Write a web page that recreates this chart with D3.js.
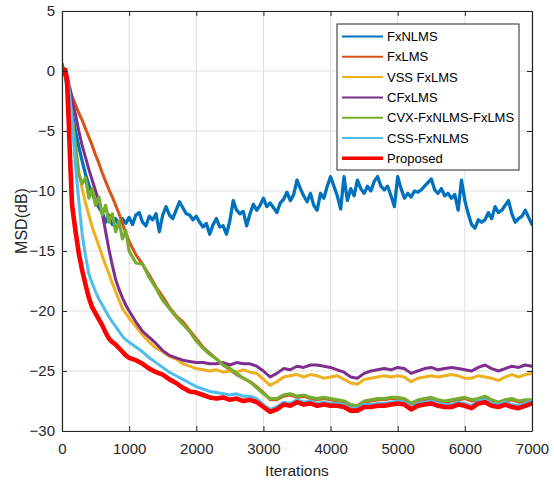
<!DOCTYPE html>
<html><head><meta charset="utf-8">
<script src="https://cdn.jsdelivr.net/npm/d3@7"></script>
<style>body{margin:0;background:#fff}svg{display:block}</style>
</head><body>
<svg id="c" width="554" height="483"></svg>
<script>
const xTicks = [0,1000,2000,3000,4000,5000,6000,7000];
const yTicks = [5,0,-5,-10,-15,-20,-25,-30];
const seriesNames = ["FxNLMS","FxLMS","VSS FxLMS","CFxLMS","CVX-FxNLMS-FxLMS","CSS-FxNLMS","Proposed"];
const seriesColors = ["#0072BD","#D95319","#EDB120","#7E2F8E","#77AC30","#4DBEEE","#FF0000"];

// sample iterations
const itersBlue = d3.range(0, 7001, 50);
const itersConv = [0,25,50,75,100,125,150].concat(d3.range(200,1001,50), d3.range(1100,7001,100));

const fxnlms = [0.6,-0.5,-2.0,-3.5,-5.0,-6.3,-7.5,-8.6,-9.5,-10.2,-10.9,-11.4,-11.8,
-12.6,-12.0,-12.8,-12.3,-12.9,-12.3,-12.7,-12.2,-12.8,-12.0,-11.8,-12.6,-12.9,-12.1,-12.4,-11.9,-13.4,-12.0,
-11.3,-12.0,-12.3,-11.6,-10.9,-11.4,-11.9,-12.0,-12.4,-12.1,-12.6,-13.0,-12.7,-13.6,-12.8,-12.3,-13.0,-12.9,-13.6,-12.5,
-10.8,-11.6,-11.9,-11.7,-12.9,-11.9,-11.1,-11.6,-11.2,-10.6,-11.3,-11.0,-11.4,-11.8,-11.0,-10.7,-10.1,-10.8,-10.3,-9.1,
-9.8,-10.4,-10.9,-10.2,-11.2,-11.6,-10.2,-10.6,-9.6,-8.8,-9.6,-10.4,-11.5,-8.8,-10.8,-9.8,-10.4,-9.1,-9.8,-10.2,
-9.6,-10.0,-9.2,-8.8,-9.6,-9.9,-9.6,-10.4,-11.3,-8.8,-9.8,-10.6,-10.2,-10.5,-10.0,-10.1,-9.9,-9.6,-9.3,-9.0,
-9.9,-10.2,-9.8,-10.4,-10.2,-10.6,-10.3,-11.6,-9.1,-10.8,-11.9,-12.8,-13.1,-12.4,-12.6,-12.4,-11.8,-12.3,-11.3,-11.8,
-11.6,-11.2,-10.8,-11.9,-12.6,-12.3,-12.1,-11.6,-12.2,-12.8];

const fxlms = [0,-0.1,-0.4,-0.8,-1.3,-1.7,-2.1,-2.8,-3.5,-4.1,-4.8,-5.5,-6.2,-7.0,-7.7,-8.5,-9.2,-9.9,-10.5,-11.2,-11.9,-12.7,-13.5,-14.2,
-15.3,-16.1,-17.0,-18.0,-18.8,-19.7,-20.4,-20.9,-21.6,-22.3,
-23.0,-23.5,-24.0,-24.5,-24.9,-25.3,-25.6,-25.9,-26.3,-26.8,
-27.4,-27.4,-27.1,-27.0,-27.2,-27.1,-27.3,-27.4,-27.3,-27.4,
-27.5,-27.6,-27.9,-28.0,-27.6,-27.5,-27.4,-27.4,-27.3,-27.3,
-27.4,-27.8,-27.5,-27.4,-27.3,-27.5,-27.6,-27.5,-27.4,-27.3,
-27.5,-27.4,-27.2,-27.5,-27.7,-27.5,-27.4,-27.6,-27.5,-27.5];

const vssFxlms = [0,0,-0.3,-0.8,-1.8,-3.0,-4.0,-6.3,-8.4,-9.8,-11.0,-12.0,-13.0,-13.8,-14.6,-15.4,-16.2,-16.9,-17.7,-18.4,-19.1,-19.8,-20.2,-20.6,
-21.3,-22.0,-22.6,-23.1,-23.4,-23.8,-24.0,-24.4,-24.6,-24.8,
-24.9,-25.0,-24.9,-25.1,-25.0,-25.1,-24.9,-25.1,-25.2,-25.7,
-26.2,-25.9,-25.5,-25.4,-25.3,-25.5,-25.3,-25.4,-25.6,-25.5,
-25.4,-25.7,-26.0,-26.1,-25.7,-25.6,-25.5,-25.4,-25.5,-25.4,
-25.5,-25.9,-25.6,-25.5,-25.4,-25.5,-25.4,-25.3,-25.4,-25.6,
-25.6,-25.4,-25.5,-25.6,-25.8,-25.5,-25.3,-25.5,-25.3,-25.2];

const cfxlms = [0,0.1,-0.1,-0.4,-1.0,-1.6,-2.4,-3.6,-5.0,-6.2,-7.2,-8.2,-9.1,-10.0,-10.9,-11.9,-13.4,-14.9,-16.2,-17.4,-18.2,-18.9,-19.5,-20.0,
-20.9,-21.7,-22.2,-22.7,-23.3,-23.7,-23.9,-24.1,-24.2,-24.3,
-24.3,-24.4,-24.4,-24.3,-24.5,-24.3,-24.4,-24.4,-24.6,-25.0,
-25.5,-25.2,-24.8,-24.9,-24.6,-24.7,-24.5,-24.5,-24.6,-24.7,
-24.9,-25.1,-25.5,-25.6,-25.2,-25.0,-24.9,-24.8,-24.9,-24.7,
-24.8,-25.2,-25.0,-24.8,-24.7,-24.9,-24.8,-24.7,-24.8,-24.9,
-25.0,-24.7,-24.5,-24.8,-25.0,-24.8,-24.6,-24.7,-24.5,-24.6];

const cvx = [0.2,0.2,-0.2,-0.9,-1.8,-2.9,-4.0,-6.2,-8.6,-9.4,-8.9,-10.6,-9.8,-11.2,-10.5,-12.0,-11.2,-12.6,-11.9,-13.4,-12.5,-14.0,-13.3,-15.0,
-16.0,-16.1,-17.2,-18.1,-19.1,-19.8,-20.5,-21.1,-21.7,-22.5,
-23.1,-23.6,-24.0,-24.5,-24.8,-25.2,-25.6,-25.9,-26.4,-26.9,
-27.3,-27.3,-27.0,-26.9,-27.1,-27.0,-27.2,-27.3,-27.2,-27.3,
-27.4,-27.5,-27.8,-27.9,-27.5,-27.4,-27.3,-27.3,-27.2,-27.2,
-27.3,-27.7,-27.4,-27.3,-27.2,-27.4,-27.5,-27.4,-27.3,-27.2,
-27.4,-27.3,-27.1,-27.4,-27.6,-27.4,-27.3,-27.5,-27.4,-27.4];

const cssFxnlms = [0,0,-0.2,-0.6,-1.2,-2.6,-4.3,-7.8,-10.8,-13.6,-15.4,-16.9,-17.7,-18.4,-19.0,-19.5,-20.0,-20.5,-20.9,-21.3,-21.7,-22.1,-22.4,-22.6,
-23.0,-23.4,-23.9,-24.3,-24.7,-25.1,-25.4,-25.7,-26.0,-26.3,
-26.5,-26.7,-26.8,-26.9,-27.0,-26.9,-27.1,-27.1,-27.3,-27.8,
-28.2,-28.0,-27.6,-27.7,-27.4,-27.6,-27.5,-27.7,-27.6,-27.7,
-27.7,-27.8,-28.1,-28.1,-27.8,-27.8,-27.7,-27.7,-27.6,-27.5,
-27.6,-28.0,-27.7,-27.6,-27.5,-27.7,-27.8,-27.8,-27.6,-27.7,
-27.9,-27.5,-27.4,-27.7,-27.8,-27.6,-27.8,-27.9,-27.7,-27.5];

const proposed = [-0.2,0.1,0.1,-0.8,-4.2,-8.0,-11.2,-13.3,-15.2,-16.6,-17.8,-18.9,-19.7,-20.2,-20.7,-21.2,-21.8,-22.3,-22.6,-22.8,-23.1,-23.4,-23.7,-23.9,
-24.1,-24.4,-24.8,-25.1,-25.3,-25.7,-26.0,-26.4,-26.7,-26.8,
-27.0,-27.2,-27.3,-27.2,-27.4,-27.3,-27.5,-27.4,-27.6,-28.0,
-28.4,-28.2,-27.8,-27.9,-27.6,-27.8,-27.7,-27.9,-27.8,-27.9,
-27.9,-28.0,-28.3,-28.3,-28.0,-28.0,-27.9,-27.9,-27.8,-27.7,
-27.8,-28.2,-27.9,-27.8,-27.7,-27.9,-28.0,-28.0,-27.8,-27.9,
-28.1,-27.7,-27.6,-27.9,-28.0,-27.8,-28.0,-28.1,-27.9,-27.7];

const seriesValues = [fxnlms, fxlms, vssFxlms, cfxlms, cvx, cssFxnlms, proposed];
const seriesIters = [itersBlue, itersConv, itersConv, itersConv, itersConv, itersConv, itersConv];
const seriesWidths = [3.3, 3, 3, 3, 3.2, 3, 4.6];
const legendWidths = [2, 2, 2, 2, 2, 2, 3.5];

const L = 62, R = 532, T = 11, B = 431;
const svg = d3.select("#c");
const x = d3.scaleLinear().domain([0,7000]).range([L,R]);
const y = d3.scaleLinear().domain([-30,5]).range([B,T]);
const txt = "#262626", font = "'Liberation Sans', Arial, Helvetica, sans-serif";

// grid
const g = svg.append("g");
g.selectAll("line.gx").data(xTicks).join("line").attr("x1",d=>x(d)).attr("x2",d=>x(d)).attr("y1",T).attr("y2",B).attr("stroke","#dfdfdf").attr("stroke-width",1);
g.selectAll("line.gy").data(yTicks).join("line").attr("y1",d=>y(d)).attr("y2",d=>y(d)).attr("x1",L).attr("x2",R).attr("stroke","#dfdfdf").attr("stroke-width",1);

// lines
svg.append("clipPath").attr("id","pc").append("rect").attr("x",L).attr("y",T).attr("width",R-L).attr("height",B-T);
const lg = svg.append("g").attr("clip-path","url(#pc)");
seriesValues.forEach((vals,i)=>{
  const its = seriesIters[i];
  const pts = vals.map((v,k)=>[its[k], v]).filter(p=>p[0]!==undefined);
  lg.append("path").datum(pts)
    .attr("d", d3.line().x(p=>x(p[0])).y(p=>y(p[1])))
    .attr("fill","none").attr("stroke",seriesColors[i]).attr("stroke-width",seriesWidths[i])
    .attr("stroke-linejoin","round").attr("stroke-linecap","round");
});

// axes
const ax = svg.append("g");
ax.append("g").attr("transform",`translate(0,${B})`).call(d3.axisBottom(x).tickValues(xTicks).tickFormat(d3.format("d")).tickSizeInner(-5).tickSizeOuter(0).tickPadding(12));
ax.append("g").attr("transform",`translate(0,${T})`).call(d3.axisTop(x).tickValues(xTicks).tickSizeInner(-5).tickSizeOuter(0).tickFormat(""));
ax.append("g").attr("transform",`translate(${L},0)`).call(d3.axisLeft(y).tickValues(yTicks).tickFormat(d3.format("d")).tickSizeInner(-5).tickSizeOuter(0).tickPadding(7));
ax.append("g").attr("transform",`translate(${R},0)`).call(d3.axisRight(y).tickValues(yTicks).tickSizeInner(-5).tickSizeOuter(0).tickFormat(""));
ax.selectAll("path.domain").attr("stroke",txt).attr("stroke-width",1.2);
ax.selectAll(".tick line").attr("stroke",txt).attr("stroke-width",1);
ax.selectAll(".tick text").attr("fill",txt).attr("font-family",font).attr("font-size","15px");

svg.append("text").attr("x",(L+R)/2).attr("y",476).attr("text-anchor","middle")
  .attr("font-family",font).attr("font-size","15.5px").attr("fill",txt).text("Iterations");
svg.append("text").attr("transform",`translate(27,${(T+B)/2}) rotate(-90)`).attr("text-anchor","middle")
  .attr("font-family",font).attr("font-size","16px").attr("fill",txt).text("MSD(dB)");

// legend
const lgX = 337, lgY = 24, lgW = 182, lgH = 146;
const leg = svg.append("g");
leg.append("rect").attr("x",lgX).attr("y",lgY).attr("width",lgW).attr("height",lgH).attr("fill","#fff").attr("stroke",txt).attr("stroke-width",1);
seriesNames.forEach((n,i)=>{
  const yy = lgY + 12.5 + i*20.3;
  leg.append("line").attr("x1",lgX+5).attr("x2",lgX+46).attr("y1",yy).attr("y2",yy).attr("stroke",seriesColors[i]).attr("stroke-width",legendWidths[i]);
  leg.append("text").attr("x",lgX+50).attr("y",yy+4.5).attr("font-family",font).attr("font-size","13px").attr("fill","#000").text(n);
});
</script>
</body></html>
